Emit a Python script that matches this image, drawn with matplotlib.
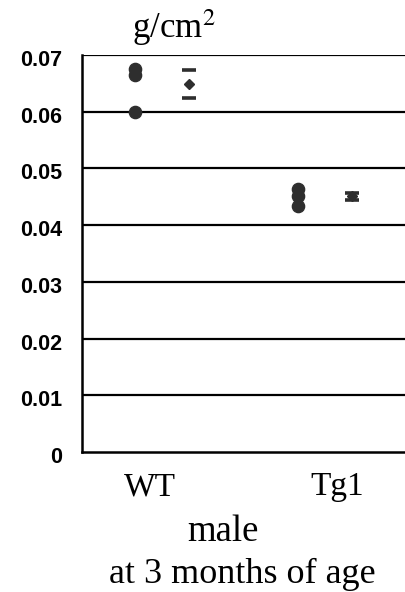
import matplotlib.pyplot as plt
import matplotlib.transforms as mtransforms

groups = ["WT", "Tg1"]
wt_values = [0.0675, 0.0665, 0.0600]
tg1_values = [0.0464, 0.0451, 0.0434]
means = [0.0649, 0.0451]
errors = [0.0024, 0.0006]
yticks = [0, 0.01, 0.02, 0.03, 0.04, 0.05, 0.06, 0.07]
ytick_labels = ["0", "0.01", "0.02", "0.03", "0.04", "0.05", "0.06", "0.07"]

point_x = [0.164, 0.667]
mean_x = [0.33, 0.833]
label_x = [0.21, 0.787]
dark = "#2e2e2e"

fig = plt.figure(figsize=(4.06, 5.92), dpi=100)
ax = fig.add_axes([0.202, 0.2365, 0.798, 0.6706])

for y in yticks[1:]:
    ax.axhline(y, color="black", lw=1.6, zorder=1)

for x, vals in zip(point_x, [wt_values, tg1_values]):
    ax.plot([x] * len(vals), vals, "o", color=dark, markersize=8.8, zorder=3)

ax.errorbar(mean_x, means, yerr=errors, fmt="D", color=dark, ecolor=dark,
            markersize=5.5, elinewidth=0, capsize=5, capthick=2.6, zorder=3)

ax.set_xlim(0, 1)
ax.set_ylim(0, 0.07)
ax.set_yticks(yticks)
ax.set_yticklabels(ytick_labels, fontfamily="Liberation Sans", fontweight="bold", fontsize=15.5)
ax.tick_params(axis="y", length=0, pad=14)
# labels sit a touch below their gridlines in the original
shift = mtransforms.ScaledTranslation(0, -3 / 100, fig.dpi_scale_trans)
for lab in ax.get_yticklabels():
    lab.set_transform(lab.get_transform() + shift)
ax.set_xticks([])
for side in ["top", "right"]:
    ax.spines[side].set_visible(False)
ax.spines["left"].set_linewidth(1.8)
ax.spines["bottom"].set_linewidth(1.8)

serif = "Liberation Serif"
fig.text(174 / 406, 1 - 28 / 592, "g/cm$^2$", family=serif, fontsize=25,
         ha="center", va="center", math_fontfamily="stix")
for x, g in zip(label_x, groups):
    ax.text(x, -0.0062, g, family=serif, fontsize=24, ha="center", va="center")
fig.text(223 / 406, 1 - 541 / 592, "male", family=serif, fontsize=26.5,
         ha="center", va="baseline")
fig.text(242 / 406, 1 - 583 / 592, "at 3 months of age", family=serif, fontsize=26,
         ha="center", va="baseline")

fig.savefig("out.png", dpi=100)
